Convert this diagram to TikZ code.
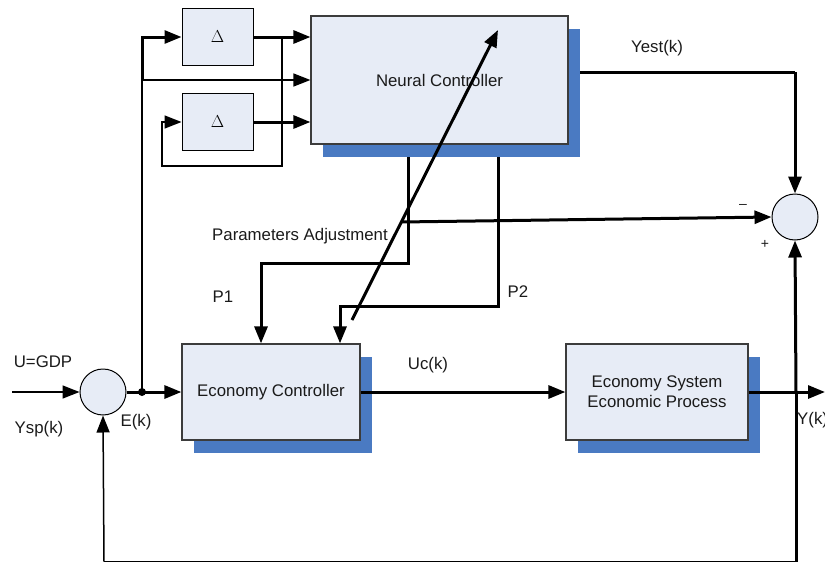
\documentclass[tikz,border=0pt]{standalone}
\usepackage{fontspec}
\setmainfont{Liberation Sans}
\usetikzlibrary{arrows.meta,shadows,calc}
\pgfdeclarelayer{background}
\pgfsetlayers{background,main}
\definecolor{boxfill}{HTML}{E7ECF6}
\definecolor{shadowblue}{HTML}{4A7AC2}
\definecolor{boxline}{HTML}{3C3C3C}
\definecolor{txt}{HTML}{1A1A1A}
\tikzset{
  block/.style={draw=boxline, line width=1.2pt, fill=boxfill, inner sep=0pt,
    text=txt, font=\fontsize{16.8}{20}\selectfont, align=center,
    drop shadow={shadow xshift=12pt, shadow yshift=-13pt, fill=shadowblue, opacity=1}},
  delaybox/.style={draw=black, line width=1pt, fill=boxfill, inner sep=0pt,
    minimum width=71pt, minimum height=57pt, font=\fontsize{17}{19}\selectfont},
  sumnode/.style={circle, draw=black, line width=1pt, fill=boxfill,
    minimum size=46pt, inner sep=0pt},
  thinline/.style={line width=1.5pt},
  thickline/.style={line width=3pt},
  tip/.style={-{Triangle[length=17pt,width=13pt]}},
  lbl/.style={text=txt, font=\fontsize{16.8}{20}\selectfont, inner sep=0pt},
  sign/.style={text=txt, font=\fontsize{14}{16}\selectfont, inner sep=0pt},
}
\begin{document}
\begin{tikzpicture}[x=1pt,y=-1pt]
\useasboundingbox (0,0) rectangle (825,562);

% blocks
\node[block, minimum width=257pt, minimum height=128pt] (nc) at (439.5,80) {Neural Controller};
\node[block, minimum width=178pt, minimum height=96pt] (ec) at (271,392) {Economy Controller};
\node[block, minimum width=182pt, minimum height=96pt] (es) at (657,392) {Economy System\\Economic Process};
\node[delaybox] (d1) at (217.5,37) {$\Delta$};
\node[delaybox] (d2) at (217.5,122) {$\Delta$};

% summing junctions
\node[sumnode] (sl) at (103,392) {};
\node[sumnode] (sr) at (795,217) {};

% routing points
\coordinate (in) at (12,392);
\coordinate (j) at (142,392);
\coordinate (jtop) at (142,80);
\coordinate (loopa) at (282,37);
\coordinate (loopb) at (282,166);
\coordinate (loopc) at (162,166);
\coordinate (ycorner) at (795,72);
\coordinate (p1a) at (408,263);
\coordinate (p1b) at (261,263);
\coordinate (p2a) at (498,306);
\coordinate (p2b) at (340,306);
\coordinate (adjs) at (352,320);
\coordinate (adje) at (498,30);
\coordinate (adjm) at (401,222);
\coordinate (out) at (825,392);
\coordinate (fb) at (796,392);
\coordinate (fbr) at (796,561.5);
\coordinate (fbl) at (104,561.5);

% lines leaving the neural controller pass behind its shadow
\begin{pgfonlayer}{background}
\draw[thickline] (nc.east |- ycorner) -- (ycorner);
\draw[thickline, tip] (ycorner) -- (sr.north);
\draw[thickline, tip] (nc.south -| p1a) -- (p1a) -- (p1b) -- (p1b |- ec.north);
\draw[thickline, tip] (nc.south -| p2a) -- (p2a) -- (p2b) -- (p2b |- ec.north);
\end{pgfonlayer}

% input and error path
\draw[thinline, tip] (in) -- (sl.west);
\draw[thickline, tip] (sl.east) -- (ec.west);
\fill (j) circle (4pt);
\draw[thinline, tip] (j) -- (jtop) -- (jtop -| nc.west);
\draw[thickline, tip] (jtop) |- (d1.west);

% delay chain
\draw[thickline, tip] (d1.east) -- (d1.east -| nc.west);
\draw[thinline, tip] (loopa) -- (loopb) -- (loopc) |- (d2.west);
\draw[thickline, tip] (d2.east) -- (d2.east -| nc.west);

% parameter adjustment
\draw[thickline, tip] (adjs) -- (adje);
\draw[thickline, tip] (adjm) -- (sr.west);

% plant and feedback
\draw[thickline, tip] (ec.east) -- (es.west);
\draw[thickline, tip] (es.east) -- (out);
\draw[thickline, tip] (fb) -- (sr.south);
\draw[thickline] (fb) -- (fbr);
\draw[thinline] (fbr) -- (fbl);
\draw[thinline, tip] (fbl) -- (sl.south);

% labels
\node[lbl] (lyest) at (657,48) {Yest(k)};
\node[lbl] (lpa) at (300,236) {Parameters Adjustment};
\node[lbl] (lp1) at (223,297) {P1};
\node[lbl] (lp2) at (518,292) {P2};
\node[lbl] (lu) at (43,362) {U=GDP};
\node[lbl] (lysp) at (39,429) {Ysp(k)};
\node[lbl] (le) at (136,422) {E(k)};
\node[lbl] (luc) at (428,365) {Uc(k)};
\node[lbl, anchor=west] (ly) at (797,420) {Y(k)};
\node[sign] (lminus) at (743,206) {\textendash};
\node[sign] (lplus) at (765,244) {+};
\end{tikzpicture}
\end{document}
